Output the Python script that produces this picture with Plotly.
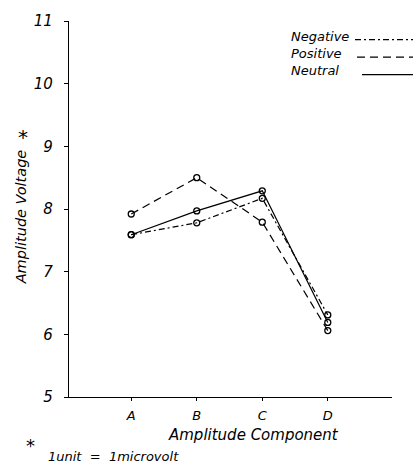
import plotly.graph_objects as go

categories = ["A", "B", "C", "D"]
negative = [7.59, 7.78, 8.17, 6.31]
positive = [7.92, 8.50, 7.79, 6.06]
neutral = [7.59, 7.97, 8.29, 6.19]
y_ticks = [5, 6, 7, 8, 9, 10, 11]

FONT = "DejaVu Sans"
W, H = 416, 470
L, R, T, B = 69, 24, 12, 73
pw, ph = W - L - R, H - T - B

def px(x):
    return (x - L) / pw

def py(y):
    return (H - B - y) / ph

fig = go.Figure()
series = [
    ("Negative", negative, "6px,3px,2px,3px"),
    ("Positive", positive, "8px,5px"),
    ("Neutral", neutral, "solid"),
]
for name, vals, dash in series:
    fig.add_trace(go.Scatter(
        x=categories, y=vals, name=name, mode="lines+markers",
        line=dict(color="black", width=1.2, dash=dash),
        marker=dict(symbol="circle-open", size=6, color="black", line=dict(width=1.3)),
        showlegend=False, cliponaxis=False,
    ))

ann = []
shapes = []
leg = [("Negative", 28, 31, 355, "6px,3px,2px,3px"),
       ("Positive", 45, 49, 357, "8px,5px"),
       ("Neutral", 63, 67, 362, "solid")]
for name, ty, ly, lx0, dash in leg:
    ann.append(dict(text=name, x=px(289), y=py(ty), xref="paper", yref="paper",
                    xanchor="left", yanchor="middle", showarrow=False,
                    font=dict(family=FONT, size=13, style="italic", color="black")))
    shapes.append(dict(type="line", xref="paper", yref="paper",
                       x0=px(lx0), x1=px(413), y0=py(ly), y1=py(ly),
                       line=dict(color="black", width=1.2, dash=dash)))

ann.append(dict(text="Amplitude Component", x=px(253), y=py(436), xref="paper", yref="paper",
                xanchor="center", yanchor="middle", showarrow=False,
                font=dict(family=FONT, size=15, style="italic", color="black")))
ann.append(dict(text="Amplitude Voltage", x=px(21), y=py(213), xref="paper", yref="paper",
                xanchor="center", yanchor="middle", showarrow=False, textangle=-90,
                font=dict(family=FONT, size=14.5, style="italic", color="black")))
ann.append(dict(text="*", x=px(23), y=py(131), xref="paper", yref="paper",
                xanchor="center", yanchor="middle", showarrow=False,
                font=dict(family=FONT, size=20, color="black")))
ann.append(dict(text="*", x=px(30), y=py(447), xref="paper", yref="paper",
                xanchor="center", yanchor="middle", showarrow=False,
                font=dict(family=FONT, size=18, color="black")))
ann.append(dict(text="1unit  =  1microvolt", x=px(46), y=py(458), xref="paper", yref="paper",
                xanchor="left", yanchor="middle", showarrow=False,
                font=dict(family=FONT, size=13, style="italic", color="black")))

fig.update_layout(
    width=W, height=H,
    margin=dict(l=L, r=R, t=T, b=B, pad=0),
    paper_bgcolor="white", plot_bgcolor="white",
    annotations=ann, shapes=shapes,
    xaxis=dict(type="category", range=[-0.95, 3.98], showgrid=False, zeroline=False,
               showline=True, linecolor="black", linewidth=1.3,
               ticks="outside", ticklen=3, tickcolor="black",
               tickfont=dict(family=FONT, size=13, style="italic", color="black"),
               ticklabelstandoff=3),
    yaxis=dict(range=[5, 11], tickvals=y_ticks, showgrid=False, zeroline=False,
               showline=True, linecolor="black", linewidth=1.3,
               ticks="outside", ticklen=4, tickcolor="black",
               tickfont=dict(family=FONT, size=15, style="italic", color="black"),
               ticklabelstandoff=8),
)

fig.write_html("out.html", config={"displayModeBar": False},
               post_script="document.body.style.margin='0';")
